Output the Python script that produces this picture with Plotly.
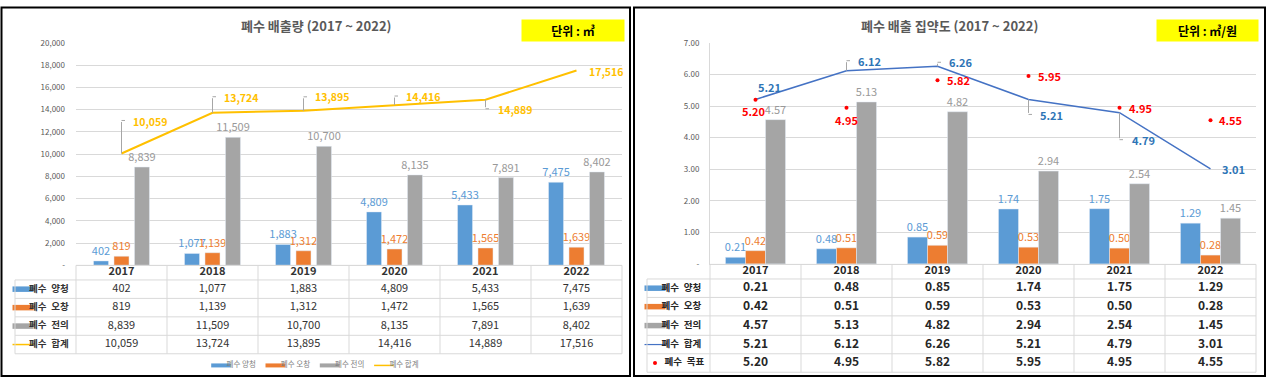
import plotly.graph_objects as go

W, H = 1269, 385
def fx(px):
    return px / W
def fy(py):
    return 1 - py / H

# ---------------- data ----------------
years = ["2017", "2018", "2019", "2020", "2021", "2022"]
series_names = ["폐수 양청", "폐수 오창", "폐수 전의", "폐수 합계", "폐수 목표"]

# left panel: 폐수 배출량 (㎥)
vol_yangcheong = [402, 1077, 1883, 4809, 5433, 7475]
vol_ochang = [819, 1139, 1312, 1472, 1565, 1639]
vol_jeonui = [8839, 11509, 10700, 8135, 7891, 8402]
vol_total = [10059, 13724, 13895, 14416, 14889, 17516]
vol_tickvals = [0, 2000, 4000, 6000, 8000, 10000, 12000, 14000, 16000, 18000, 20000]
vol_ticktext = ["-", "2,000", "4,000", "6,000", "8,000", "10,000", "12,000", "14,000", "16,000", "18,000", "20,000"]

# right panel: 폐수 배출 집약도 (㎥/원)
int_yangcheong = [0.21, 0.48, 0.85, 1.74, 1.75, 1.29]
int_ochang = [0.42, 0.51, 0.59, 0.53, 0.50, 0.28]
int_jeonui = [4.57, 5.13, 4.82, 2.94, 2.54, 1.45]
int_total = [5.21, 6.12, 6.26, 5.21, 4.79, 3.01]
int_target = [5.20, 4.95, 5.82, 5.95, 4.95, 4.55]
int_tickvals = [0, 1, 2, 3, 4, 5, 6, 7]
int_ticktext = ["-", "1.00", "2.00", "3.00", "4.00", "5.00", "6.00", "7.00"]

# ---------------- style ----------------
FONT = "Noto Sans CJK KR, Noto Sans, DejaVu Sans"
BLUE, ORANGE, GRAY = "#5B9BD5", "#ED7D31", "#A5A5A5"
GOLD, LINEBLUE, RED = "#FFC000", "#4472C4", "#FF0000"
GRID = "#D9D9D9"
LEADER = "#A6A6A6"
bar_label_colors = [BLUE, ORANGE, "#999999"]
bar_colors = [BLUE, ORANGE, GRAY]
idx = list(range(len(years)))

fig = go.Figure()

# ---- left bars ----
left_w = 0.165
left_off = [-0.3075, -0.0825, 0.1425]
for vals, name, col, lcol, off in zip([vol_yangcheong, vol_ochang, vol_jeonui], series_names[:3],
                                      bar_colors, bar_label_colors, left_off):
    fig.add_trace(go.Bar(x=years, y=vals, name=name, marker_color=col, width=left_w, offset=off,
                         texttemplate="%{y:,}", textposition="outside", textangle=0,
                         textfont=dict(color=lcol, size=11, family=FONT),
                         cliponaxis=False, constraintext="none", xaxis="x", yaxis="y",
                         showlegend=False))
fig.add_trace(go.Scatter(x=years, y=vol_total, name=series_names[3], mode="lines",
                         line=dict(color=GOLD, width=2), xaxis="x", yaxis="y", showlegend=False))

# ---- right bars ----
right_w = 0.22
right_off = [-0.33, -0.11, 0.11]
for vals, name, col, lcol, off in zip([int_yangcheong, int_ochang, int_jeonui], series_names[:3],
                                      bar_colors, bar_label_colors, right_off):
    fig.add_trace(go.Bar(x=years, y=vals, name=name, marker_color=col, width=right_w, offset=off,
                         texttemplate="%{y:.2f}", textposition="outside", textangle=0,
                         textfont=dict(color=lcol, size=11, family=FONT),
                         cliponaxis=False, constraintext="none", xaxis="x2", yaxis="y2",
                         showlegend=False))
fig.add_trace(go.Scatter(x=years, y=int_total, name=series_names[3], mode="lines",
                         line=dict(color=LINEBLUE, width=1.5), xaxis="x2", yaxis="y2",
                         showlegend=False))
fig.add_trace(go.Scatter(x=years, y=int_target, name=series_names[4], mode="markers",
                         marker=dict(color=RED, size=4), xaxis="x2", yaxis="y2",
                         showlegend=False))

annotations = []

def add_label(xa, ya, x, y, text, color, size, xanchor, xshift, yshift, leader=None):
    annotations.append(dict(x=x, y=y, xref=xa, yref=ya, text=f"<b>{text}</b>", showarrow=False,
                            xanchor=xanchor, yanchor="middle", xshift=xshift, yshift=yshift,
                            font=dict(color=color, size=size, family=FONT)))
    if leader is not None:
        annotations.append(dict(x=x, y=y, xref=xa, yref=ya, text="", showarrow=True, arrowhead=0,
                                arrowwidth=1, arrowcolor=LEADER, ax=0, ay=leader,
                                axref="pixel", ayref="pixel", standoff=0))
        annotations.append(dict(x=x, y=y, xref=xa, yref=ya, text="", showarrow=True, arrowhead=0,
                                arrowwidth=1, arrowcolor=LEADER, ax=5, ay=0, yshift=-leader,
                                axref="pixel", ayref="pixel", standoff=0))

# label placement: (xanchor, xshift, yshift, leader length)
left_lbl_pos = [("left", 9, 32, -33), ("left", 9, 15, -16), ("left", 9, 14, -14),
                ("left", 9, 9, -9), ("left", 10, -10, 9), ("left", 10, -1, None)]
for i, v, (xa_, xs, ys, ld) in zip(idx, vol_total, left_lbl_pos):
    add_label("x", "y", i, v, f"{v:,}", GOLD, 10.5, xa_, xs, ys, ld)

right_tot_pos = [("left", 0, 12, None), ("left", 9, 10, -10), ("left", 9, 4, -4),
                 ("left", 9, -16, 15), ("left", 10, -27, 27), ("left", 9, 0, None)]
for i, v, (xa_, xs, ys, ld) in zip(idx, int_total, right_tot_pos):
    add_label("x2", "y2", i, v, f"{v:.2f}", "#2E75B6", 11, xa_, xs, ys, ld)

right_tgt_pos = [("center", -2, -11, None), ("center", 0, -12, None), ("left", 7, 0, None),
                 ("left", 7, 0, None), ("left", 7, 0, None), ("left", 6, 0, None)]
for i, v, (xa_, xs, ys, ld) in zip(idx, int_target, right_tgt_pos):
    add_label("x2", "y2", i, v, f"{v:.2f}", RED, 11, xa_, xs, ys, ld)

# titles and unit boxes
annotations += [
    dict(x=fx(316), y=fy(20), xref="paper", yref="paper", showarrow=False, xanchor="center", yanchor="middle",
         text="<b>폐수 배출량 (2017 ~ 2022)</b>", font=dict(size=13, color="#595959", family=FONT)),
    dict(x=fx(949.5), y=fy(20), xref="paper", yref="paper", showarrow=False, xanchor="center", yanchor="middle",
         text="<b>폐수 배출 집약도 (2017 ~ 2022)</b>", font=dict(size=13, color="#595959", family=FONT)),
    dict(x=fx(573), y=fy(25.5), xref="paper", yref="paper", showarrow=False, width=100, height=19,
         xanchor="center", yanchor="middle",
         bgcolor="#FFFF00", text="<b>단위 : ㎥</b>", font=dict(size=12, color="#000000", family=FONT)),
    dict(x=fx(1207.5), y=fy(25.5), xref="paper", yref="paper", showarrow=False, width=99, height=19,
         xanchor="center", yanchor="middle",
         bgcolor="#FFFF00", text="<b>단위 : ㎥/원</b>", font=dict(size=12, color="#000000", family=FONT)),
]

shapes = [
    dict(type="rect", xref="paper", yref="paper", x0=fx(1.5), x1=fx(630), y0=fy(381), y1=fy(1.5),
         line=dict(color="black", width=2)),
    dict(type="rect", xref="paper", yref="paper", x0=fx(634), x1=fx(1265), y0=fy(381), y1=fy(1.5),
         line=dict(color="black", width=2)),
]

def key_marker(sym, kcol, kw, size=15):
    if sym == "circle":
        return dict(symbol="circle", size=4, color=kcol)
    return dict(symbol="line-ew", size=size, line=dict(color=kcol, width=kw))

def spaced(label):
    return label.replace(" ", "\u2002")

# ---- data tables drawn on their own axes (1 x-unit = one year column, y in pixel rows) ----
COLW = 91.0
def build_table(xa, ya, left_px, head_w, top_px, row_bounds, rows, key_styles, text_color,
                bold, head_size, cell_size, label_size, label_gap):
    x_left = -0.5 - head_w / COLW
    n = len(years)
    for yb in row_bounds[1:]:
        shapes.append(dict(type="line", xref=xa, yref=ya, x0=x_left, x1=n - 0.5, y0=yb, y1=yb,
                           line=dict(color=GRID, width=1)))
    shapes.append(dict(type="line", xref=xa, yref=ya, x0=-0.5, x1=n - 0.5, y0=0, y1=0,
                       line=dict(color=GRID, width=1)))
    for k in range(n + 1):
        shapes.append(dict(type="line", xref=xa, yref=ya, x0=k - 0.5, x1=k - 0.5, y0=0,
                           y1=row_bounds[-1], line=dict(color=GRID, width=1)))
    shapes.append(dict(type="line", xref=xa, yref=ya, x0=x_left, x1=x_left, y0=row_bounds[1],
                       y1=row_bounds[-1], line=dict(color=GRID, width=1)))
    centers = [(a + b) / 2 for a, b in zip(row_bounds[:-1], row_bounds[1:])]
    fig.add_trace(go.Scatter(x=idx, y=[centers[0]] * n, text=[f"<b>{y}</b>" for y in years],
                             mode="text", textposition="middle center", cliponaxis=False,
                             textfont=dict(size=head_size, color=text_color, family=FONT),
                             xaxis=xa, yaxis=ya, showlegend=False))
    key_x = x_left + 8.0 / COLW
    for (label, vals, fmt), (sym, kcol, kw), yc in zip(rows, key_styles, centers[1:]):
        texts = [fmt(v) for v in vals]
        if bold:
            texts = [f"<b>{t}</b>" for t in texts]
        fig.add_trace(go.Scatter(x=idx, y=[yc] * n, text=texts, mode="text",
                                 textposition="middle center", cliponaxis=False,
                                 textfont=dict(size=cell_size, color=text_color, family=FONT),
                                 xaxis=xa, yaxis=ya, showlegend=False))
        fig.add_trace(go.Scatter(x=[key_x], y=[yc], mode="markers", marker=key_marker(sym, kcol, kw),
                                 cliponaxis=False, xaxis=xa, yaxis=ya, showlegend=False))
        gap = label_gap + (3 if sym == "circle" else 0)
        fig.add_trace(go.Scatter(x=[x_left + gap / COLW], y=[yc], text=[f"<b>{spaced(label)}</b>"],
                                 mode="text", textposition="middle right", cliponaxis=False,
                                 textfont=dict(size=label_size, color=text_color, family=FONT),
                                 xaxis=xa, yaxis=ya, showlegend=False))
    pad = 3
    right_px = left_px + head_w + COLW * n
    xdom = [fx(left_px - pad), fx(right_px + pad)]
    xrng = [x_left - pad / COLW, n - 0.5 + pad / COLW]
    ydom = [fy(top_px + row_bounds[-1] + pad), fy(top_px - pad)]
    yrng = [row_bounds[-1] + pad, -pad]
    return xdom, xrng, ydom, yrng

fmt_int = lambda v: f"{v:,}"
fmt_2 = lambda v: f"{v:.2f}"
left_rows = [(series_names[0], vol_yangcheong, fmt_int), (series_names[1], vol_ochang, fmt_int),
             (series_names[2], vol_jeonui, fmt_int), (series_names[3], vol_total, fmt_int)]
left_keys = [("line", BLUE, 5.5), ("line", ORANGE, 5.5), ("line", GRAY, 5.5), ("line", GOLD, 1.5)]
lt = build_table("x3", "y3", 15, 61, 267, [0, 15, 34, 53, 72, 91], left_rows, left_keys,
                 "#333333", False, 11, 11, 9.5, 14)

right_rows = [(series_names[0], int_yangcheong, fmt_2), (series_names[1], int_ochang, fmt_2),
              (series_names[2], int_jeonui, fmt_2), (series_names[3], int_total, fmt_2),
              (series_names[4], int_target, fmt_2)]
right_keys = [("line", BLUE, 5.5), ("line", ORANGE, 5.5), ("line", GRAY, 5.5), ("line", LINEBLUE, 1.2),
              ("circle", RED, 0)]
rt = build_table("x4", "y4", 647, 63, 266, [0, 15, 34, 53, 73, 92, 111], right_rows, right_keys,
                 "#262626", True, 11, 12, 9.5, 14.5)

# ---- legend row of the left panel (drawn on its own pixel-unit axis) ----
legend_keys = [("line", BLUE, 4), ("line", ORANGE, 4), ("line", GRAY, 4), ("line", GOLD, 1.5)]
legend_x0, legend_step = 214, 54.3
for k, (name, (sym, kcol, kw)) in enumerate(zip(series_names[:4], legend_keys)):
    x0 = legend_x0 + k * legend_step
    fig.add_trace(go.Scatter(x=[x0 + 7], y=[0.5], mode="markers", marker=key_marker(sym, kcol, kw, 14),
                             cliponaxis=False, xaxis="x5", yaxis="y5", showlegend=False))
    fig.add_trace(go.Scatter(x=[x0 + 12.5], y=[0.5], text=[name], mode="text",
                             textposition="middle right", cliponaxis=False,
                             textfont=dict(size=7.5, color="#7F7F7F", family=FONT),
                             xaxis="x5", yaxis="y5", showlegend=False))

hidden = dict(showgrid=False, zeroline=False, showline=False, showticklabels=False, ticks="",
              fixedrange=True)
axis_common = dict(type="category", range=[-0.5, 5.5], showticklabels=False, showgrid=False,
                   zeroline=False, showline=True, linecolor=GRID, fixedrange=True)
fig.update_layout(
    width=W, height=H, margin=dict(l=0, r=0, t=0, b=0),
    paper_bgcolor="white", plot_bgcolor="rgba(0,0,0,0)", barmode="overlay", hovermode=False,
    font=dict(family=FONT), showlegend=False,
    xaxis=dict(domain=[fx(76), fx(622)], anchor="y", **axis_common),
    yaxis=dict(domain=[fy(267), fy(38)], anchor="x", range=[0, 20000], tickvals=vol_tickvals,
               ticktext=vol_ticktext, gridcolor=GRID, zeroline=False, showline=False,
               tickfont=dict(size=8, color="#595959"), ticklabelstandoff=10, fixedrange=True),
    xaxis2=dict(domain=[fx(710), fx(1256)], anchor="y2", **axis_common),
    yaxis2=dict(domain=[fy(265.5), fy(38)], anchor="x2", range=[0, 7], tickvals=int_tickvals,
                ticktext=int_ticktext, gridcolor=GRID, zeroline=False, showline=True, linecolor=GRID,
                tickfont=dict(size=8, color="#595959"), ticklabelstandoff=8, fixedrange=True),
    xaxis3=dict(domain=lt[0], range=lt[1], anchor="y3", **hidden),
    yaxis3=dict(domain=lt[2], range=lt[3], anchor="x3", **hidden),
    xaxis4=dict(domain=rt[0], range=rt[1], anchor="y4", **hidden),
    yaxis4=dict(domain=rt[2], range=rt[3], anchor="x4", **hidden),
    xaxis5=dict(domain=[fx(200), fx(440)], range=[200, 440], anchor="y5", **hidden),
    yaxis5=dict(domain=[fy(378), fy(362)], range=[0, 1], anchor="x5", **hidden),
    annotations=annotations, shapes=shapes,
)

fig.write_html("out.html", config={"displayModeBar": False},
               post_script="document.body.style.margin='0';")
